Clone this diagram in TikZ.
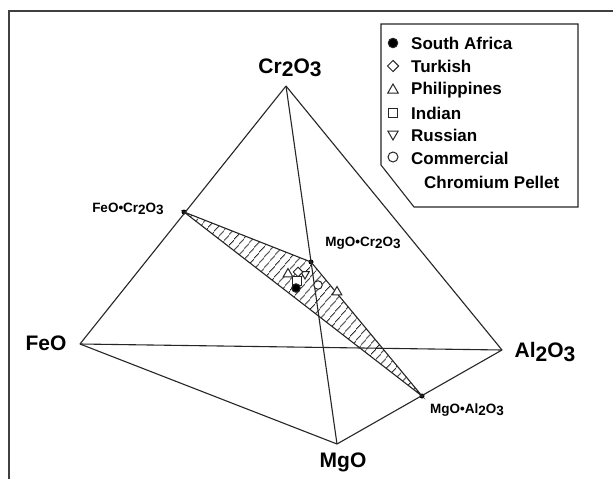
\documentclass[tikz,border=0pt]{standalone}
\usepackage{fontspec}
\setmainfont{Liberation Sans}
\usetikzlibrary{patterns.meta,shapes.geometric}
\newcommand\lowd[1]{\raisebox{-0.32ex}{#1}}
\begin{document}
\begin{tikzpicture}[x=1pt,y=-1pt,
  ln/.style={line width=1.1pt, draw=black!85},
  mk/.style={draw=black!85, line width=1pt, inner sep=0pt, fill=white},
  fcirc/.style={mk, circle, minimum size=8.5pt, fill=black},
  ocirc/.style={mk, circle, minimum size=8.5pt},
  dmd/.style={mk, diamond, minimum size=11.5pt},
  tup/.style={mk, regular polygon, regular polygon sides=3, minimum size=12pt},
  tdn/.style={tup, shape border rotate=180},
  sqr/.style={mk, rectangle, minimum size=8.5pt},
  dot/.style={circle, fill=black, inner sep=0pt, minimum size=5pt},
  big/.style={font=\fontsize{21}{23}\selectfont\bfseries, inner sep=0pt},
  small/.style={font=\fontsize{13.5}{15}\selectfont\bfseries, inner sep=0pt},
  leg/.style={font=\fontsize{17}{19}\selectfont\bfseries, inner sep=0pt, anchor=west},
]
\useasboundingbox (0,0) rectangle (613,479);
\fill[white] (0,0) rectangle (613,479);
% frame
\draw[line width=1.8pt, black!75] (613,11) -- (9,11) -- (9,479);

% vertices
\coordinate (Cr) at (286,86);
\coordinate (Fe) at (80,344);
\coordinate (Al) at (502,350);
\coordinate (Mg) at (337,444);
\node[dot] (FC) at (184,212) {};
\node[dot] (MC) at (311,262) {};
\node[dot] (MA) at (422,396) {};

% shaded triangle
\path[pattern={Lines[angle=50,distance=6.5pt,line width=0.9pt]}, pattern color=black!85]
  (FC.center) -- (MC.center) -- (MA.center) -- cycle;
\draw[ln] (FC.center) -- (MC.center) -- (MA.center) -- cycle;

% tetrahedron edges
\draw[ln] (Cr) -- (Fe);
\draw[ln] (Cr) -- (Al);
\draw[ln] (Cr) -- (Mg);
\draw[ln] (Fe) -- (Al);
\draw[ln] (Fe) -- (Mg);
\draw[ln] (Mg) -- (Al);

% labels
\node[big] (lCr) at (290,68) {Cr\lowd{2}O\lowd{3}};
\node[big] (lFe) at (46,343) {FeO};
\node[big] (lAl) at (545,352) {Al\lowd{2}O\lowd{3}};
\node[big] (lMg) at (343,462) {MgO};
\node[small] (lFC) at (128,209) {FeO•Cr\lowd{2}O\lowd{3}};
\node[small] (lMC) at (363,243) {MgO•Cr\lowd{2}O\lowd{3}};
\node[small] (lMA) at (467,410) {MgO•Al\lowd{2}O\lowd{3}};

% data markers
\node[tup, minimum size=11pt] (d1) at (288,274) {};
\node[tdn, minimum size=10pt] (d7) at (305,274) {};
\node[dmd, minimum size=10pt] (d2) at (298,272) {};
\node[sqr] (d3) at (297,281) {};
\node[fcirc] (d4) at (296,288) {};
\node[ocirc] (d5) at (318,285) {};
\node[tup, minimum size=11pt] (d6) at (337,292) {};

% legend
\draw[ln] (381,24) -- (578,24) -- (578,207) -- (414,207) -- (381,165) -- cycle;
\node[fcirc, minimum size=9.5pt] (m1) at (393,43) {};
\node[dmd] (m2) at (393,66) {};
\node[tup, minimum size=12pt] (m3) at (393,90) {};
\node[sqr] (m4) at (393,113) {};
\node[tdn, minimum size=12pt] (m5) at (393,134) {};
\node[ocirc, minimum size=10pt] (m6) at (393,157) {};
\node[leg] (t1) at (411,43) {South Africa};
\node[leg] (t2) at (411,66) {Turkish};
\node[leg] (t3) at (411,90) {Philippines};
\node[leg] (t4) at (411,113) {Indian};
\node[leg] (t5) at (411,135) {Russian};
\node[leg] (t6) at (411,158) {Commercial};
\node[leg] (t7) at (424,182) {Chromium Pellet};
\end{tikzpicture}
\end{document}
